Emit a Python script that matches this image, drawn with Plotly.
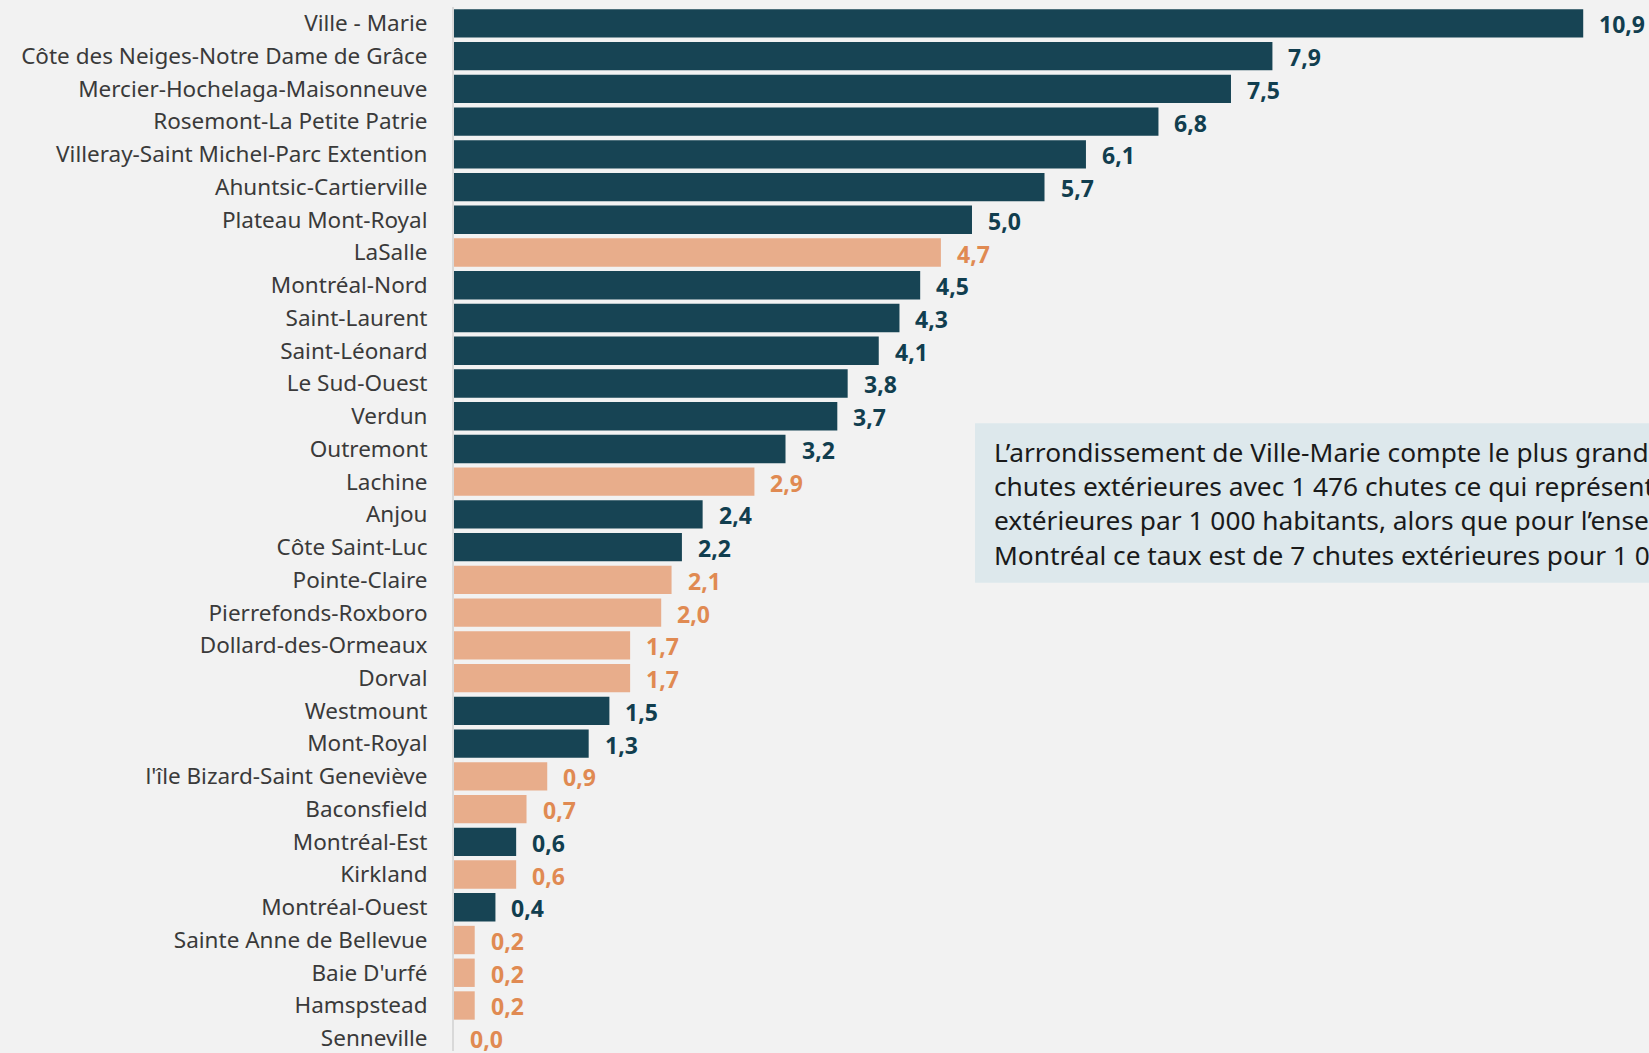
import plotly.graph_objects as go

# taux de chutes extérieures par 1 000 habitants
districts = [
    "Ville - Marie", "Côte des Neiges-Notre Dame de Grâce", "Mercier-Hochelaga-Maisonneuve",
    "Rosemont-La Petite Patrie", "Villeray-Saint Michel-Parc Extention", "Ahuntsic-Cartierville",
    "Plateau Mont-Royal", "LaSalle", "Montréal-Nord", "Saint-Laurent", "Saint-Léonard",
    "Le Sud-Ouest", "Verdun", "Outremont", "Lachine", "Anjou", "Côte Saint-Luc",
    "Pointe-Claire", "Pierrefonds-Roxboro", "Dollard-des-Ormeaux", "Dorval", "Westmount",
    "Mont-Royal", "l'île Bizard-Saint Geneviève", "Baconsfield", "Montréal-Est", "Kirkland",
    "Montréal-Ouest", "Sainte Anne de Bellevue", "Baie D'urfé", "Hamspstead", "Senneville",
]
rates = [10.9, 7.9, 7.5, 6.8, 6.1, 5.7, 5.0, 4.7, 4.5, 4.3, 4.1, 3.8, 3.7, 3.2, 2.9, 2.4,
         2.2, 2.1, 2.0, 1.7, 1.7, 1.5, 1.3, 0.9, 0.7, 0.6, 0.6, 0.4, 0.2, 0.2, 0.2, 0.0]
# "d" = dark bar, "o" = orange bar
kind = ["d", "d", "d", "d", "d", "d", "d", "o", "d", "d", "d", "d", "d", "d", "o", "d",
        "d", "o", "o", "o", "o", "d", "d", "o", "o", "d", "o", "d", "o", "o", "o", "o"]

note = ("L’arrondissement de Ville-Marie compte le plus grand nombre de<br>"
        "chutes extérieures avec 1 476 chutes ce qui représente 10,9 chutes<br>"
        "extérieures par 1 000 habitants, alors que pour l’ensemble de<br>"
        "Montréal ce taux est de 7 chutes extérieures pour 1 000 habitants.")

bar_col = {"d": "#174454", "o": "#E8AD8B"}
txt_col = {"d": "#113E4F", "o": "#E08A52"}
font = "Noto Sans"

fig = go.Figure(go.Bar(
    x=rates, y=districts, orientation="h",
    marker={"color": [bar_col[k] for k in kind], "line": {"width": 0}},
    hoverinfo="x+y",
))

for d, r, k in zip(districts, rates, kind):
    fig.add_annotation(x=r, y=d, text="<b>%s</b>" % ("%.1f" % r).replace(".", ","),
                       xanchor="left", yanchor="middle", xshift=14, yshift=-1,
                       showarrow=False, font={"family": font, "size": 23, "color": txt_col[k]})

# encadré de commentaire
fig.add_shape(type="rect", xref="paper", yref="paper", x0=0.436, x1=1.2, y0=0.4484, y1=0.6013,
              fillcolor="#DDE8EC", line={"width": 0}, layer="below")
fig.add_annotation(xref="paper", yref="paper", x=0.4505, y=0.5245, xanchor="left", yanchor="middle",
                   align="left", text=note, showarrow=False,
                   font={"family": font, "size": 26.3, "color": "#1a1a1a"})

fig.update_layout(
    width=1649, height=1053,
    margin={"l": 454, "r": 0, "t": 7, "b": 0},
    paper_bgcolor="#F2F2F2", plot_bgcolor="#F2F2F2",
    bargap=0.134, showlegend=False,
    xaxis={"range": [0, 11.535], "visible": False},
    yaxis={
        "categoryorder": "array", "categoryarray": districts,
        "range": [31.39, -0.5],
        "showline": True, "linecolor": "#D9D9D9", "linewidth": 2,
        "showgrid": False, "ticks": "", "ticklabelstandoff": 20,
        "tickfont": {"family": font, "size": 22.5, "color": "#3A3A3A"},
    },
)

fig.write_html("out.html", config={"displayModeBar": False},
               post_script="document.body.style.margin='0';document.body.style.overflow='hidden';")
